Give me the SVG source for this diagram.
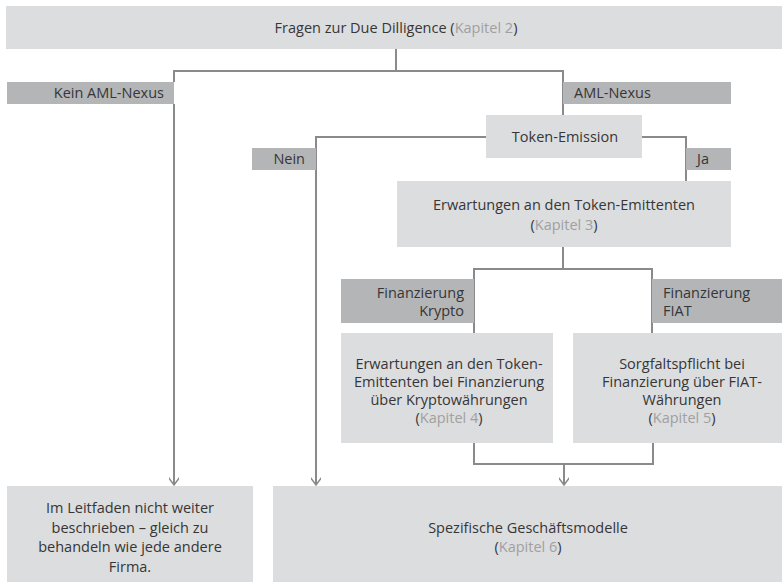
<svg xmlns="http://www.w3.org/2000/svg" width="782" height="582" viewBox="0 0 782 582">
<style>
.box{fill:#dcdddf}
.lab{fill:#b4b5b7}
.t{font-family:"Open Sans","Noto Sans",sans-serif;font-size:14.5px;fill:#363636}
.c{text-anchor:middle}
.e{text-anchor:end}
.k{fill:#a0a0a0}
.ln{fill:none;stroke:#8a8a8c;stroke-width:2}
</style>
<defs>
<marker id="arr" markerWidth="14" markerHeight="10" refX="12" refY="5" orient="auto" markerUnits="userSpaceOnUse">
<path d="M4,-1 L12,5 L4,11" fill="none" stroke="#8a8a8c" stroke-width="1.5"/>
</marker>
</defs>
<g id="connectors">
<path class="ln" d="M396,49 V71"/>
<path class="ln" d="M174,82 V71 H563 V115"/>
<path class="ln" d="M174,104 V485" marker-end="url(#arr)"/>
<path class="ln" d="M486,137 H316 V485" marker-end="url(#arr)"/>
<path class="ln" d="M642,137 H686 V181"/>
<path class="ln" d="M563,247 V269"/>
<path class="ln" d="M474,333 V269 H652 V333"/>
<path class="ln" d="M474,443 V464 H653 V443"/>
<path class="ln" d="M564,464 V485" marker-end="url(#arr)"/>
</g>
<g id="n_top">
<rect class="box" x="6" y="6" width="776" height="43"/>
<text class="t c" x="396" y="33">Fragen zur Due Dilligence (<tspan class="k">Kapitel 2</tspan>)</text>
</g>
<g id="l_kein">
<rect class="lab" x="7" y="82" width="167" height="22"/>
<text class="t e" x="164" y="98">Kein AML-Nexus</text>
</g>
<g id="l_aml">
<rect class="lab" x="563" y="82" width="168" height="22"/>
<text class="t" x="574" y="98">AML-Nexus</text>
</g>
<g id="n_token">
<rect class="box" x="486" y="115" width="156" height="43"/>
<text class="t c" x="565" y="142">Token-Emission</text>
</g>
<g id="l_nein">
<rect class="lab" x="252" y="148" width="64" height="22"/>
<text class="t e" x="305" y="164">Nein</text>
</g>
<g id="l_ja">
<rect class="lab" x="686" y="148" width="45" height="22"/>
<text class="t" x="697" y="164">Ja</text>
</g>
<g id="n_erw">
<rect class="box" x="397" y="181" width="334" height="66"/>
<text class="t c" x="564" y="210">Erwartungen an den Token-Emittenten</text>
<text class="t c" x="564" y="230">(<tspan class="k">Kapitel 3</tspan>)</text>
</g>
<g id="l_krypto">
<rect class="lab" x="341" y="279" width="133" height="44"/>
<text class="t e" x="464" y="298">Finanzierung</text>
<text class="t e" x="464" y="316">Krypto</text>
</g>
<g id="l_fiat">
<rect class="lab" x="652" y="279" width="130" height="44"/>
<text class="t" x="663" y="298">Finanzierung</text>
<text class="t" x="663" y="316">FIAT</text>
</g>
<g id="n_krypto">
<rect class="box" x="341" y="333" width="212" height="110"/>
<text class="t c" x="449" y="369">Erwartungen an den Token-</text>
<text class="t c" x="449" y="387">Emittenten bei Finanzierung</text>
<text class="t c" x="449" y="405">über Kryptowährungen</text>
<text class="t c" x="449" y="423">(<tspan class="k">Kapitel 4</tspan>)</text>
</g>
<g id="n_fiat">
<rect class="box" x="573" y="333" width="209" height="110"/>
<text class="t c" x="682" y="369">Sorgfaltspflicht bei</text>
<text class="t c" x="682" y="387">Finanzierung über FIAT-</text>
<text class="t c" x="682" y="405">Währungen</text>
<text class="t c" x="682" y="423">(<tspan class="k">Kapitel 5</tspan>)</text>
</g>
<g id="n_leit">
<rect class="box" x="7" y="486" width="246" height="96"/>
<text class="t c" x="130" y="513">Im Leitfaden nicht weiter</text>
<text class="t c" x="130" y="533">beschrieben – gleich zu</text>
<text class="t c" x="130" y="552">behandeln wie jede andere</text>
<text class="t c" x="130" y="572">Firma.</text>
</g>
<g id="n_spez">
<rect class="box" x="273" y="486" width="509" height="96"/>
<text class="t c" x="528" y="533">Spezifische Geschäftsmodelle</text>
<text class="t c" x="528" y="552">(<tspan class="k">Kapitel 6</tspan>)</text>
</g>
</svg>
